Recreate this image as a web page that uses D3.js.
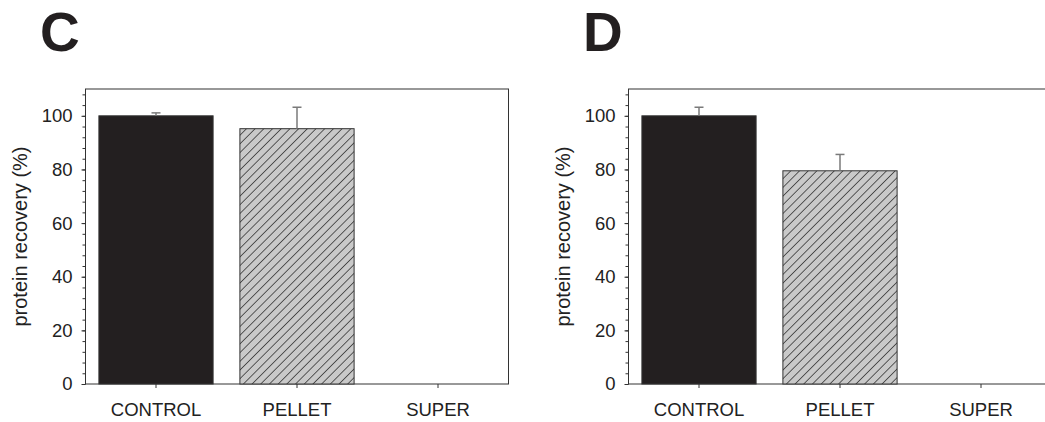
<!DOCTYPE html>
<html>
<head>
<meta charset="utf-8">
<script src="https://cdn.jsdelivr.net/npm/d3@7"></script>
<style>
  body { margin: 0; background: #fff; }
  svg { display: block; font-family: "Liberation Sans", Arial, sans-serif; }
  .axis path, .axis line { stroke: #333; }
  .axis text { fill: #222; font-size: 18.5px; }
</style>
</head>
<body>
<svg id="chart" width="1045" height="422"></svg>
<script>
const categories = ["CONTROL", "PELLET", "SUPER"];
const panelLabels = ["C", "D"];
const recoveryC = [100, 95.2, 0];
const errorC = [1.1, 8.0, 0];
const recoveryD = [100, 79.5, 0];
const errorD = [3.2, 6.1, 0];
const yTicks = [0, 20, 40, 60, 80, 100];
const yMinorTicks = d3.range(0, 110, 4);
const yTitle = "protein recovery (%)";

const svg = d3.select("#chart");
const width = 423, height = 295;

// hatched fill for the pellet bars
const defs = svg.append("defs");
const pat = defs.append("pattern")
  .attr("id", "hatch")
  .attr("patternUnits", "userSpaceOnUse")
  .attr("width", 6.15).attr("height", 6.15)
  .attr("patternTransform", "rotate(45)");
pat.append("rect").attr("width", 6.15).attr("height", 6.15).attr("fill", "#c9c9c9");
pat.append("line")
  .attr("x1", 0).attr("y1", 0).attr("x2", 0).attr("y2", 6.15)
  .attr("stroke", "#3a3a3a").attr("stroke-width", 1.6);

const barFills = ["#231f20", "url(#hatch)", "#c9c9c9"];

function drawPanel(offsetX, label, values, errors) {
  const g = svg.append("g").attr("transform", `translate(${offsetX},0)`);
  const plot = g.append("g").attr("transform", "translate(85.5,89)");

  const x = d3.scaleBand()
    .domain(categories)
    .range([0, width])
    .paddingInner(0.19)
    .paddingOuter(0.095);

  const y = d3.scaleLinear()
    .domain([0, 110])
    .range([height, 0]);

  // frame
  plot.append("rect")
    .attr("width", width).attr("height", height)
    .attr("fill", "none").attr("stroke", "#333").attr("stroke-width", 1);

  // bars
  plot.selectAll(".bar")
    .data(categories)
    .join("rect")
    .attr("class", "bar")
    .attr("x", d => x(d))
    .attr("width", x.bandwidth())
    .attr("y", (d, i) => y(values[i]))
    .attr("height", (d, i) => height - y(values[i]))
    .attr("fill", (d, i) => barFills[i])
    .attr("stroke", (d, i) => values[i] > 0 ? "#333" : "none")
    .attr("stroke-width", 1);

  // error bars (upper only)
  const eb = plot.selectAll(".err")
    .data(categories.filter((d, i) => errors[i] > 0))
    .join("g")
    .attr("class", "err")
    .attr("stroke", "#7a7a7a")
    .attr("stroke-width", 1.5);
  eb.append("line")
    .attr("x1", d => x(d) + x.bandwidth() / 2)
    .attr("x2", d => x(d) + x.bandwidth() / 2)
    .attr("y1", d => y(values[categories.indexOf(d)]))
    .attr("y2", d => { const i = categories.indexOf(d); return y(values[i] + errors[i]); });
  eb.append("line")
    .attr("x1", d => x(d) + x.bandwidth() / 2 - 4.5)
    .attr("x2", d => x(d) + x.bandwidth() / 2 + 4.5)
    .attr("y1", d => { const i = categories.indexOf(d); return y(values[i] + errors[i]); })
    .attr("y2", d => { const i = categories.indexOf(d); return y(values[i] + errors[i]); });

  // minor y ticks
  plot.append("g")
    .attr("class", "axis")
    .call(d3.axisLeft(y).tickValues(yMinorTicks).tickSize(3).tickFormat(""))
    .call(a => a.select(".domain").remove());

  // y axis
  plot.append("g")
    .attr("class", "axis")
    .call(d3.axisLeft(y).tickValues(yTicks).tickSize(4).tickPadding(9))
    .call(a => a.select(".domain").remove());

  // x axis
  plot.append("g")
    .attr("class", "axis")
    .attr("transform", `translate(0,${height})`)
    .call(d3.axisBottom(x).tickSize(4).tickPadding(15))
    .call(a => a.select(".domain").remove());

  // y title
  g.append("text")
    .attr("transform", `translate(27,${89 + height / 2}) rotate(-90)`)
    .attr("text-anchor", "middle")
    .attr("font-size", 20)
    .attr("fill", "#222")
    .text(yTitle);

  // panel letter
  g.append("text")
    .attr("x", 40).attr("y", 51)
    .attr("font-size", 55)
    .attr("font-weight", "bold")
    .attr("fill", "#231f20")
    .text(label);
}

drawPanel(0, panelLabels[0], recoveryC, errorC);
drawPanel(543, panelLabels[1], recoveryD, errorD);
</script>
</body>
</html>
